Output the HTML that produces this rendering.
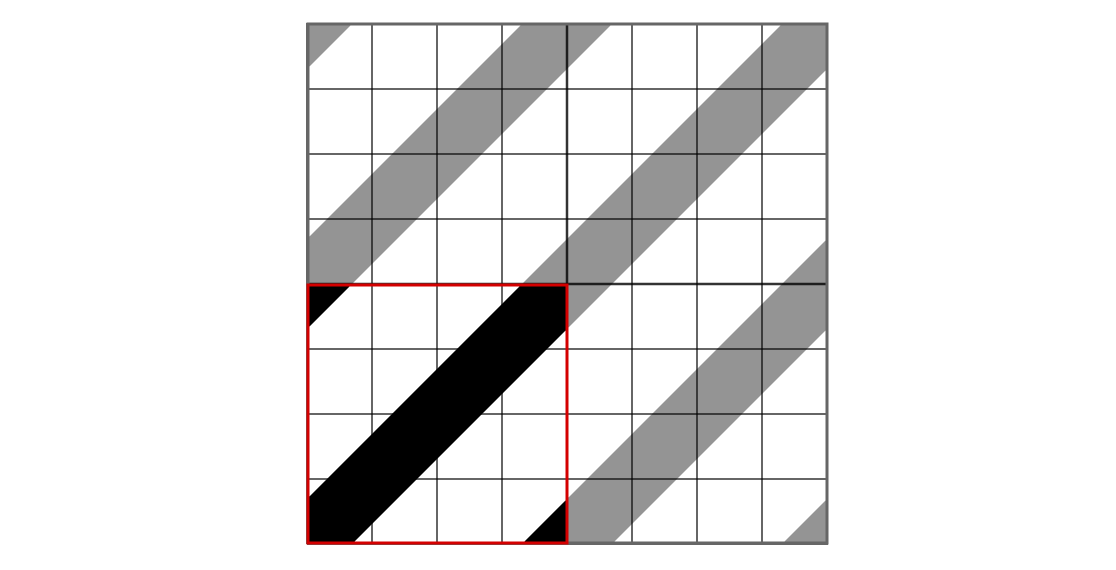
<!DOCTYPE html>
<html><head><meta charset="utf-8">
<style>html,body{margin:0;padding:0;background:#fff;width:1116px;height:570px;overflow:hidden}svg{display:block}</style>
</head><body>
<svg id="chart" width="1116" height="570" viewBox="0 0 1116 570" xmlns="http://www.w3.org/2000/svg">
<g id="gray"></g>
<g id="black"></g>
<g id="grid"></g>
<rect x="308" y="24" width="519" height="519" fill="none" stroke="#666" stroke-width="3"/>
<rect x="308" y="285" width="259" height="258" fill="none" stroke="#d40000" stroke-width="3"/>
</svg>
<script>
const bandOffsets = [-520, -260, 0, 260, 520];
const bandHalfWidth = 45;
const gridDivisions = [0,1,2,3,4,5,6,7,8];
const NS = 'http://www.w3.org/2000/svg';
const X0 = 307, Y0 = 544, CELL = 65;
function px(U){return X0+U;}
function py(V){return Y0-V;}
function clip(poly, inside, inter){
  const out=[];
  for(let i=0;i<poly.length;i++){
    const a=poly[i], b=poly[(i+1)%poly.length];
    const ia=inside(a), ib=inside(b);
    if(ia) out.push(a);
    if(ia!==ib) out.push(inter(a,b));
  }
  return out;
}
function clipBox(poly,x0,y0,x1,y1){
  const lerp=(a,b,t)=>[a[0]+(b[0]-a[0])*t,a[1]+(b[1]-a[1])*t];
  poly=clip(poly,p=>p[0]>=x0,(a,b)=>lerp(a,b,(x0-a[0])/(b[0]-a[0])));
  if(poly.length) poly=clip(poly,p=>p[0]<=x1,(a,b)=>lerp(a,b,(x1-a[0])/(b[0]-a[0])));
  if(poly.length) poly=clip(poly,p=>p[1]>=y0,(a,b)=>lerp(a,b,(y0-a[1])/(b[1]-a[1])));
  if(poly.length) poly=clip(poly,p=>p[1]<=y1,(a,b)=>lerp(a,b,(y1-a[1])/(b[1]-a[1])));
  return poly;
}
function bandPoly(c,x0,y0,x1,y1){
  const a=-1000,b=1600;
  const raw=[[a,a+c-bandHalfWidth],[b,b+c-bandHalfWidth],[b,b+c+bandHalfWidth],[a,a+c+bandHalfWidth]]
    .map(p=>[px(p[0]),py(p[1])]);
  const cl=clipBox(raw,x0,y0,x1,y1);
  return cl.map(p=>p[0].toFixed(2)+','+p[1].toFixed(2)).join(' ');
}
const gGray=document.getElementById('gray'), gBlack=document.getElementById('black');
bandOffsets.forEach(c=>{
  const g=bandPoly(c,307,23,828,544);
  if(g){
    const p=document.createElementNS(NS,'polygon');
    p.setAttribute('points',g);p.setAttribute('fill','#949494');
    
    
    gGray.appendChild(p);
  }
  const k=bandPoly(c,307,284,568,544);
  if(k){
    const q=document.createElementNS(NS,'polygon');
    q.setAttribute('points',k);q.setAttribute('fill','#000');
    
    
    gBlack.appendChild(q);
  }
});
const gGrid=document.getElementById('grid');
gridDivisions.forEach(d=>{
  const w = (d===4)?2.5:2;
  const col = (d===4)?'rgba(0,0,0,0.8)':'rgba(0,0,0,0.6)';
  const v=document.createElementNS(NS,'line');
  v.setAttribute('x1',X0+d*CELL);v.setAttribute('x2',X0+d*CELL);v.setAttribute('y1',23);v.setAttribute('y2',544);
  v.setAttribute('stroke',col);v.setAttribute('stroke-width',w);
  
  
  gGrid.appendChild(v);
  const h=document.createElementNS(NS,'line');
  h.setAttribute('y1',Y0-d*CELL);h.setAttribute('y2',Y0-d*CELL);h.setAttribute('x1',307);h.setAttribute('x2',828);
  h.setAttribute('stroke',col);h.setAttribute('stroke-width',w);
  
  
  gGrid.appendChild(h);
});
</script>
</body></html>
